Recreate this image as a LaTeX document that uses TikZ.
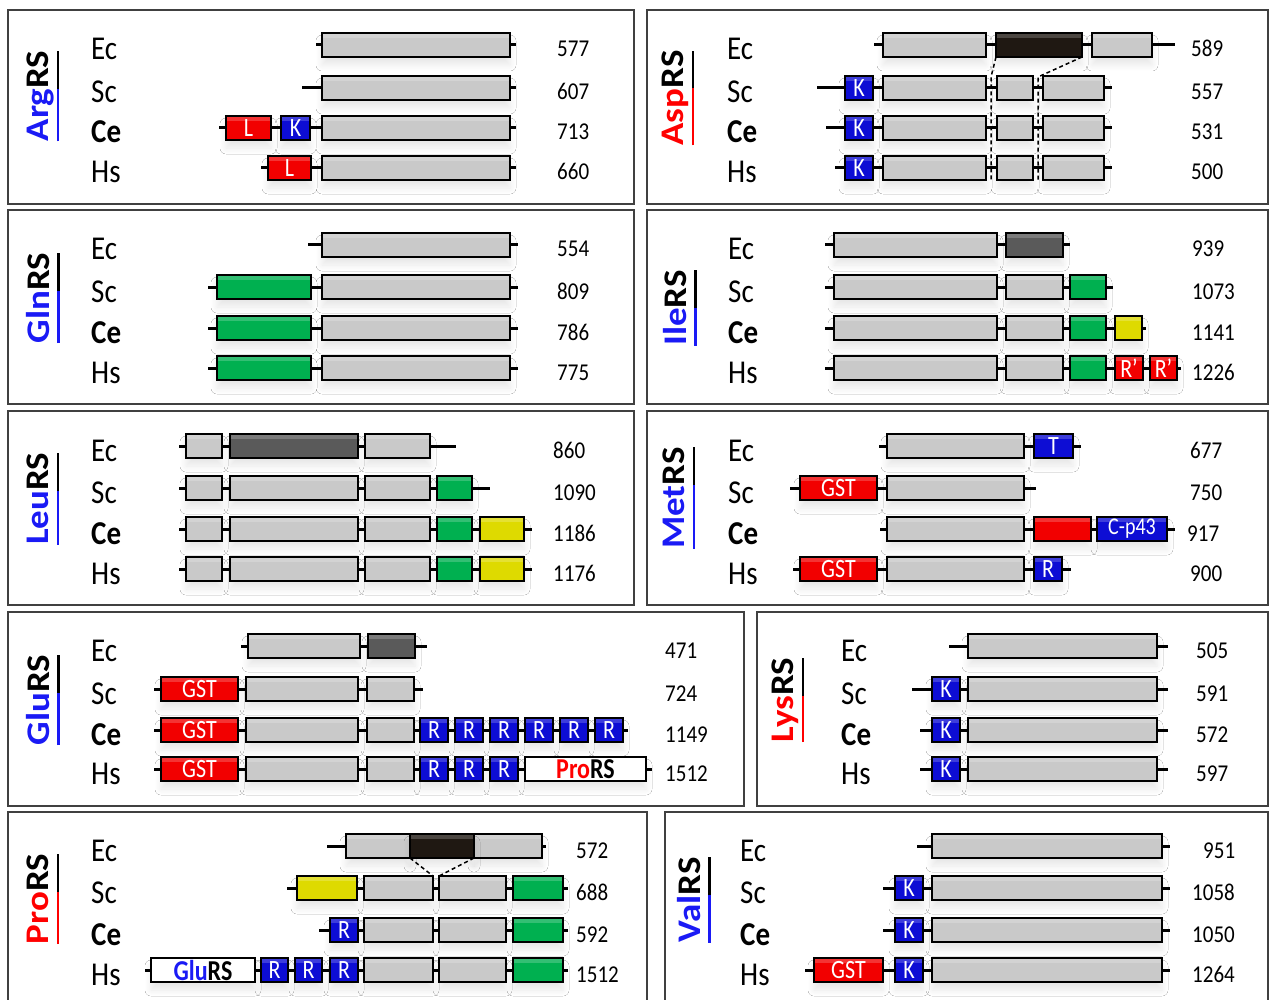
\documentclass[tikz,border=0pt]{standalone}
\usepackage{fontspec}
\setmainfont{Carlito}
\usetikzlibrary{shadows.blur}
\newcommand\vstr[1]{\scalebox{1}[1.15]{#1}}
\newcommand\bstr[1]{\scalebox{1}[1.2]{#1}}
\newcommand\vtitle[1]{\scalebox{1.12}[1]{#1}}
\newcommand\ulx[1]{\setbox0=\hbox{#1}\rlap{\rule[-0.3em]{\wd0}{2.2pt}}\box0}
\newcommand\labfont{\fontsize{29}{32}\selectfont}
\newcommand\numfont{\fontsize{21}{24}\selectfont}
\newcommand\boxfont{\fontsize{22}{24}\selectfont}
\newcommand\ttlfont{\fontsize{33}{36}\selectfont\bfseries}
\definecolor{gfill}{HTML}{C9C9C9}
\definecolor{dgray}{HTML}{5A5A5A}
\definecolor{dbrown}{HTML}{1F1812}
\definecolor{dred}{HTML}{F20000}
\definecolor{dblue}{HTML}{0D0DD4}
\definecolor{dgreen}{HTML}{00B050}
\definecolor{dyel}{HTML}{DEDA00}
\definecolor{tblue}{HTML}{1A1AF5}
\definecolor{tred}{HTML}{FF0000}
\definecolor{frame}{HTML}{404040}
\tikzset{
 panel/.style={draw=frame, line width=1.6pt, fill=white},
 bbline/.style={line width=3pt, black},
 dom/.style={draw=black, line width=1.8pt, minimum height=24pt, inner sep=0pt, outer sep=0pt, anchor=west, font=\boxfont, text=white,
   blur shadow={shadow xshift=0pt, shadow yshift=-8pt, shadow blur radius=6pt, shadow opacity=9, shadow blur steps=6},
   path picture={\fill[white,opacity=0.2] (path picture bounding box.north west) rectangle ([yshift=-5pt]path picture bounding box.north east);}},
 xgr/.style={dom, fill=gfill},
 xdk/.style={dom, fill=dgray},
 xbr/.style={dom, fill=dbrown},
 xrd/.style={dom, fill=dred},
 xbl/.style={dom, fill=dblue},
 xgn/.style={dom, fill=dgreen},
 xyl/.style={dom, fill=dyel},
 xwh/.style={dom, fill=white, text=black, font=\boxfont\bfseries},
 lab/.style={anchor=base west, inner sep=0pt, font=\labfont},
 numb/.style={anchor=base west, inner sep=0pt, font=\numfont},
 ttl/.style={rotate=90, inner sep=0pt, font=\ttlfont},
 dsh/.style={dash pattern=on 4pt off 3pt, line width=1.5pt},
}
\newcommand\dmn[6]{\node[#5, minimum width={(#3-#2)*1pt}] (#1) at (#2,#4) {\bstr{#6}};}
\newcommand\bbone[4]{\coordinate (#1s) at (#2,#4); \coordinate (#1e) at (#3,#4); \draw[bbline] (#1s) -- (#1e);}
\newcommand\rowlabels[6]{%
 \node[lab] (#1Ec) at (#2,{#3+15}) {\vstr{Ec}};
 \node[lab] (#1Sc) at (#2,{#4+15}) {\vstr{Sc}};
 \node[lab] (#1Ce) at (#2,{#5+15}) {\vstr{\bfseries Ce}};
 \node[lab] (#1Hs) at (#2,{#6+15}) {\vstr{Hs}};}
\begin{document}
\begin{tikzpicture}[x=1pt,y=-1pt]
\useasboundingbox (0,0) rectangle (1271,1000);
\clip (0,0) rectangle (1271,1000);
% panels
\draw[panel] (8,10) rectangle (634,204);
\draw[panel] (647,10) rectangle (1268,204);
\draw[panel] (8,210) rectangle (634,404);
\draw[panel] (647,210) rectangle (1268,404);
\draw[panel] (8,411) rectangle (634,605);
\draw[panel] (647,411) rectangle (1268,605);
\draw[panel] (8,612) rectangle (744,806);
\draw[panel] (757,612) rectangle (1268,806);
\draw[panel] (8,812) rectangle (647,1012);
\draw[panel] (665,812) rectangle (1268,1012);

% titles
\node[ttl] (tArg) at (43,96) {\vtitle{\textcolor{tblue}{\ulx{Arg}}\ulx{RS}}};
\node[ttl] (tAsp) at (678,98) {\vtitle{\textcolor{tred}{\ulx{Asp}}\ulx{RS}}};
\node[ttl] (tGln) at (43,298) {\vtitle{\textcolor{tblue}{\ulx{Gln}}\ulx{RS}}};
\node[ttl] (tIle) at (680,308) {\vtitle{\textcolor{tblue}{\ulx{Ile}}\ulx{RS}}};
\node[ttl] (tLeu) at (43,499) {\vtitle{\textcolor{tblue}{\ulx{Leu}}\ulx{RS}}};
\node[ttl] (tMet) at (679,498) {\vtitle{\textcolor{tblue}{\ulx{Met}}\ulx{RS}}};
\node[ttl] (tGlu) at (43,700) {\vtitle{\textcolor{tblue}{\ulx{Glu}}\ulx{RS}}};
\node[ttl] (tLys) at (788,700) {\vtitle{\textcolor{tred}{\ulx{Lys}}\ulx{RS}}};
\node[ttl] (tPro) at (43,899) {\vtitle{\textcolor{tred}{\ulx{Pro}}\ulx{RS}}};
\node[ttl] (tVal) at (694,900) {\vtitle{\textcolor{tblue}{\ulx{Val}}\ulx{RS}}};

% labels
\rowlabels{arg}{91}{45}{88}{128}{168}
\rowlabels{asp}{727}{45}{88}{128}{168}
\rowlabels{gln}{91}{245}{287}{328}{368}
\rowlabels{ile}{728}{245}{287}{328}{368}
\rowlabels{leu}{91}{446}{488}{529}{569}
\rowlabels{met}{728}{446}{488}{529}{569}
\rowlabels{glu}{91}{646}{689}{730}{769}
\rowlabels{lys}{841}{646}{689}{730}{769}
\rowlabels{pro}{91}{846}{888}{930}{970}
\rowlabels{val}{740}{846}{888}{930}{970}

% ===== ArgRS
\bbone{argA}{316}{516}{45}
\bbone{argB}{302}{516}{88}
\bbone{argC}{219}{516}{128}
\bbone{argD}{261}{516}{168}
\dmn{argEc1}{322}{510}{45}{xgr}{}
\dmn{argSc1}{322}{510}{88}{xgr}{}
\dmn{argCe1}{226}{271}{128}{xrd}{L}
\dmn{argCe2}{281}{310}{128}{xbl}{K}
\dmn{argCe3}{322}{510}{128}{xgr}{}
\dmn{argHs1}{268}{311}{168}{xrd}{L}
\dmn{argHs2}{322}{510}{168}{xgr}{}
\node[numb] (argN1) at (557,57) {\vstr{577}};
\node[numb] (argN2) at (557,100) {\vstr{607}};
\node[numb] (argN3) at (557,140) {\vstr{713}};
\node[numb] (argN4) at (557,180) {\vstr{660}};

% ===== AspRS
\bbone{aspA}{874}{1175}{45}
\bbone{aspB}{817}{1112}{88}
\bbone{aspC}{826}{1112}{128}
\bbone{aspD}{835}{1112}{168}
\dmn{aspEc1}{883}{986}{45}{xgr}{}
\dmn{aspEcD}{996}{1082}{45}{xbr}{}
\dmn{aspEc3}{1092}{1152}{45}{xgr}{}
\foreach \yy/\nn in {88/Sc,128/Ce,168/Hs}{
 \dmn{asp\nn1}{845}{873}{\yy}{xbl}{K}
 \dmn{asp\nn2}{883}{986}{\yy}{xgr}{}
 \dmn{asp\nn3}{997}{1033}{\yy}{xgr}{}
 \dmn{asp\nn4}{1043}{1104}{\yy}{xgr}{}
}
\coordinate (aspL1) at (991,77); \coordinate (aspL2) at (991,181);
\coordinate (aspR1) at (1038,77); \coordinate (aspR2) at (1038,181);
\draw[dsh] (aspEcD.south west) -- (aspL1) -- (aspL2);
\draw[dsh] (aspEcD.south east) -- (aspR1) -- (aspR2);
\node[numb] (aspN1) at (1191,57) {\vstr{589}};
\node[numb] (aspN2) at (1191,100) {\vstr{557}};
\node[numb] (aspN3) at (1191,140) {\vstr{531}};
\node[numb] (aspN4) at (1191,180) {\vstr{500}};

% ===== GlnRS
\bbone{glnA}{308}{518}{245}
\dmn{glnEc1}{322}{510}{245}{xgr}{}
\foreach \yy/\nn in {287/Sc,328/Ce,368/Hs}{
 \bbone{gln\nn}{208}{518}{\yy}
 \dmn{gln\nn1}{217}{311}{\yy}{xgn}{}
 \dmn{gln\nn2}{322}{510}{\yy}{xgr}{}
}
\node[numb] (glnN1) at (557,257) {\vstr{554}};
\node[numb] (glnN2) at (557,299) {\vstr{809}};
\node[numb] (glnN3) at (557,340) {\vstr{786}};
\node[numb] (glnN4) at (557,380) {\vstr{775}};

% ===== IleRS
\bbone{ileA}{825}{1070}{245}
\bbone{ileB}{825}{1113}{287}
\bbone{ileC}{825}{1146}{328}
\bbone{ileD}{825}{1181}{368}
\dmn{ileEc1}{834}{997}{245}{xgr}{}
\dmn{ileEc2}{1006}{1063}{245}{xdk}{}
\foreach \yy/\nn in {287/Sc,328/Ce,368/Hs}{
 \dmn{ile\nn1}{834}{997}{\yy}{xgr}{}
 \dmn{ile\nn2}{1006}{1063}{\yy}{xgr}{}
 \dmn{ile\nn3}{1070}{1106}{\yy}{xgn}{}
}
\dmn{ileCe4}{1115}{1142}{328}{xyl}{}
\dmn{ileHs4}{1115}{1143}{368}{xrd}{R’}
\dmn{ileHs5}{1150}{1177}{368}{xrd}{R’}
\node[numb] (ileN1) at (1192,257) {\vstr{939}};
\node[numb] (ileN2) at (1192,299) {\vstr{1073}};
\node[numb] (ileN3) at (1192,340) {\vstr{1141}};
\node[numb] (ileN4) at (1192,380) {\vstr{1226}};

% ===== LeuRS
\bbone{leuA}{179}{456}{446}
\bbone{leuB}{179}{490}{488}
\bbone{leuC}{179}{532}{529}
\bbone{leuD}{179}{532}{569}
\dmn{leuEc1}{186}{222}{446}{xgr}{}
\dmn{leuEc2}{230}{358}{446}{xdk}{}
\dmn{leuEc3}{365}{430}{446}{xgr}{}
\foreach \yy/\nn in {488/Sc,529/Ce,569/Hs}{
 \dmn{leu\nn1}{186}{222}{\yy}{xgr}{}
 \dmn{leu\nn2}{230}{358}{\yy}{xgr}{}
 \dmn{leu\nn3}{365}{430}{\yy}{xgr}{}
 \dmn{leu\nn4}{437}{472}{\yy}{xgn}{}
}
\dmn{leuCe5}{480}{524}{529}{xyl}{}
\dmn{leuHs5}{480}{524}{569}{xyl}{}
\node[numb] (leuN1) at (553,458) {\vstr{860}};
\node[numb] (leuN2) at (553,500) {\vstr{1090}};
\node[numb] (leuN3) at (553,541) {\vstr{1186}};
\node[numb] (leuN4) at (553,581) {\vstr{1176}};

% ===== MetRS
\bbone{metA}{879}{1081}{446}
\bbone{metB}{790}{1036}{488}
\bbone{metC}{880}{1175}{529}
\bbone{metD}{793}{1071}{569}
\dmn{metEc1}{887}{1024}{446}{xgr}{}
\dmn{metEc2}{1034}{1073}{446}{xbl}{T}
\dmn{metSc1}{800}{877}{488}{xrd}{GST}
\dmn{metSc2}{887}{1024}{488}{xgr}{}
\dmn{metCe1}{887}{1024}{529}{xgr}{}
\dmn{metCe2}{1034}{1091}{529}{xrd}{}
\node[xbl, minimum width=70pt, font=\fontsize{20}{22}\selectfont] (metCe3) at (1097,529) {\bstr{C-p43}};
\dmn{metHs1}{800}{877}{569}{xrd}{GST}
\dmn{metHs2}{887}{1024}{569}{xgr}{}
\dmn{metHs3}{1034}{1062}{569}{xbl}{R}
\node[numb] (metN1) at (1190,458) {\vstr{677}};
\node[numb] (metN2) at (1190,500) {\vstr{750}};
\node[numb] (metN3) at (1187,541) {\vstr{917}};
\node[numb] (metN4) at (1190,581) {\vstr{900}};

% ===== GluRS
\bbone{gluA}{241}{427}{646}
\bbone{gluB}{154}{423}{689}
\bbone{gluC}{154}{628}{730}
\bbone{gluD}{154}{652}{769}
\dmn{gluEc1}{248}{360}{646}{xgr}{}
\dmn{gluEc2}{368}{415}{646}{xdk}{}
\foreach \yy/\nn in {689/Sc,730/Ce,769/Hs}{
 \dmn{glu\nn1}{161}{238}{\yy}{xrd}{GST}
 \dmn{glu\nn2}{246}{358}{\yy}{xgr}{}
 \dmn{glu\nn3}{367}{414}{\yy}{xgr}{}
}
\foreach \xx [count=\i] in {420,455,490,525,560,595}{
 \dmn{gluCeR\i}{\xx}{\xx+28}{730}{xbl}{R}
}
\foreach \xx [count=\i] in {420,455,490}{
 \dmn{gluHsR\i}{\xx}{\xx+28}{769}{xbl}{R}
}
\node[xwh, minimum width=121pt, font=\fontsize{24}{27}\selectfont\bfseries] (gluHsP) at (525,769) {\bstr{\textcolor{tred}{Pro}RS}\hspace{24pt}};
\node[numb] (gluN1) at (665,658) {\vstr{471}};
\node[numb] (gluN2) at (665,701) {\vstr{724}};
\node[numb] (gluN3) at (665,742) {\vstr{1149}};
\node[numb] (gluN4) at (665,781) {\vstr{1512}};

% ===== LysRS
\bbone{lysA}{949}{1168}{646}
\bbone{lysB}{912}{1168}{689}
\bbone{lysC}{920}{1168}{730}
\bbone{lysD}{920}{1168}{769}
\dmn{lysEc1}{968}{1157}{646}{xgr}{}
\foreach \yy/\nn in {689/Sc,730/Ce,769/Hs}{
 \dmn{lys\nn1}{932}{960}{\yy}{xbl}{K}
 \dmn{lys\nn2}{968}{1157}{\yy}{xgr}{}
}
\node[numb] (lysN1) at (1196,658) {\vstr{505}};
\node[numb] (lysN2) at (1196,701) {\vstr{591}};
\node[numb] (lysN3) at (1196,742) {\vstr{572}};
\node[numb] (lysN4) at (1196,781) {\vstr{597}};

% ===== ProRS
\bbone{proA}{327}{546}{846}
\bbone{proB}{287}{568}{888}
\bbone{proC}{319}{568}{930}
\bbone{proD}{145}{568}{970}
\dmn{proEc1}{346}{410}{846}{xgr}{}
\dmn{proEc3}{474}{542}{846}{xgr}{}
\dmn{proEcD}{410}{474}{846}{xbr}{}
\dmn{proSc1}{297}{357}{888}{xyl}{}
\dmn{proCe1}{330}{358}{930}{xbl}{R}
\foreach \yy/\nn in {888/Sc,930/Ce,970/Hs}{
 \dmn{pro\nn2}{364}{433}{\yy}{xgr}{}
 \dmn{pro\nn3}{439}{506}{\yy}{xgr}{}
 \dmn{pro\nn4}{513}{563}{\yy}{xgn}{}
}
\node[xwh, minimum width=104pt, font=\fontsize{24}{27}\selectfont\bfseries] (proHsG) at (151,970) {\bstr{\textcolor{tblue}{Glu}RS}\hspace{22pt}};
\dmn{proHsR1}{261}{288}{970}{xbl}{R}
\dmn{proHsR2}{295}{322}{970}{xbl}{R}
\dmn{proHsR3}{330}{358}{970}{xbl}{R}
\draw[dsh] (proEcD.south west) -- (proSc2.north east);
\draw[dsh] (proEcD.south east) -- (proSc3.north west);
\node[numb] (proN1) at (576,858) {\vstr{572}};
\node[numb] (proN2) at (576,900) {\vstr{688}};
\node[numb] (proN3) at (576,942) {\vstr{592}};
\node[numb] (proN4) at (576,982) {\vstr{1512}};

% ===== ValRS
\bbone{valA}{917}{1170}{846}
\bbone{valB}{883}{1170}{888}
\bbone{valC}{883}{1170}{930}
\bbone{valD}{805}{1170}{970}
\dmn{valEc1}{932}{1162}{846}{xgr}{}
\foreach \yy/\nn in {888/Sc,930/Ce,970/Hs}{
 \dmn{val\nn1}{895}{923}{\yy}{xbl}{K}
 \dmn{val\nn2}{932}{1162}{\yy}{xgr}{}
}
\dmn{valHs0}{814}{883}{970}{xrd}{GST}
\node[numb] (valN1) at (1203,858) {\vstr{951}};
\node[numb] (valN2) at (1192,900) {\vstr{1058}};
\node[numb] (valN3) at (1192,942) {\vstr{1050}};
\node[numb] (valN4) at (1192,982) {\vstr{1264}};
\end{tikzpicture}
\end{document}
